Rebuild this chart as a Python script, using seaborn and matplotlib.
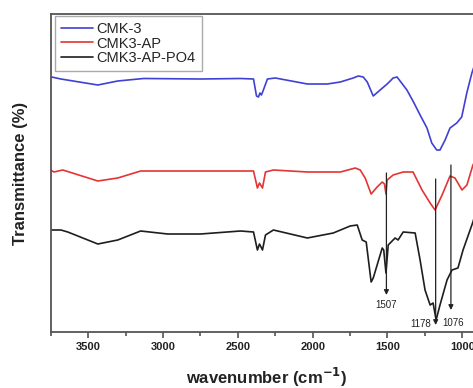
import matplotlib
matplotlib.use("Agg")
import matplotlib.pyplot as plt
import seaborn as sns
import pandas as pd

# ---- data (wavenumber cm-1, relative transmittance, arbitrary offset units) ----
cmk3_w = [3744, 3682, 3435, 3302, 3129, 2749, 2482, 2395, 2375, 2362, 2352, 2342, 2329, 2302,
          2249, 2035, 1902, 1815, 1729, 1695, 1662, 1635, 1595, 1549, 1502, 1462, 1436,
          1370, 1326, 1282, 1236, 1204, 1171, 1149, 1115, 1082, 1037, 1004, 970, 936, 900]
cmk3_t = [255, 253, 247, 251, 253.5, 253, 253.5, 253, 236, 235, 239, 237, 242, 253,
          254, 248, 248, 250, 254, 256, 255, 250, 236, 242, 248, 254, 255,
          242, 230, 217, 204, 189, 182, 182, 192, 204, 209, 215, 239, 259, 275]

ap_w = [3749, 3729, 3669, 3435, 3302, 3149, 2862, 2482, 2395, 2369, 2355, 2335, 2315, 2262,
        2035, 1815, 1715, 1682, 1649, 1609, 1569, 1535, 1520, 1510, 1502, 1462, 1395, 1329,
        1269, 1215, 1182, 1135, 1082, 1049, 1002, 969, 929, 900]
ap_t = [162, 160, 162, 151, 154, 161, 161, 161, 161, 144, 149, 144, 160, 162,
        160, 160, 164, 162, 154, 138, 145, 150, 148, 138, 152, 157, 160, 160,
        142, 129, 122, 137, 156, 154, 142, 147, 167, 175]

po4_w = [3749, 3682, 3636, 3435, 3302, 3149, 2969, 2749, 2482, 2395, 2369, 2355, 2335, 2315,
         2262, 2035, 1862, 1749, 1702, 1669, 1642, 1609, 1595, 1569, 1535, 1525, 1510, 1495,
         1449, 1429, 1395, 1315, 1282, 1249, 1215, 1195, 1175, 1149, 1102, 1069, 1029, 995,
         929, 900]
po4_t = [102, 102, 100, 88, 92, 101, 98, 98, 101, 100, 82, 88, 82, 97,
         102, 94, 99, 106, 107, 92, 90, 50, 54, 67, 84, 82, 59, 87,
         94, 92, 100, 99, 72, 42, 27, 29, 12, 27, 52, 62, 64, 82,
         110, 125]

series_names = ["CMK-3", "CMK3-AP", "CMK3-AP-PO4"]
series_colors = ["#4040d4", "#e43434", "#1e1e1e"]

peak_labels = ["1507", "1178", "1076"]
peak_pos = [1507, 1178, 1076]
arrow_top = [159, 153, 167]
arrow_bottom = [37, 7, 22]

df = pd.concat([
    pd.DataFrame({"w": cmk3_w, "t": cmk3_t, "s": series_names[0]}),
    pd.DataFrame({"w": ap_w, "t": ap_t, "s": series_names[1]}),
    pd.DataFrame({"w": po4_w, "t": po4_t, "s": series_names[2]}),
])

sns.set_theme(style="white")
plt.rcParams["font.family"] = ["Liberation Sans", "DejaVu Sans"]

fig = plt.figure(figsize=(4.73, 3.88), dpi=100)
W, H = 473, 388
left, right, top, bottom = 50.7, 484, 14, 332
ax = fig.add_axes([left / W, 1 - bottom / H, (right - left) / W, (bottom - top) / H])

sns.lineplot(data=df, x="w", y="t", hue="s", palette=dict(zip(series_names, series_colors)),
             ax=ax, linewidth=1.2, sort=False, estimator=None)

ax.set_xlim(3744, 855)
ax.set_ylim(0, 318)

ax.set_xticks([3500, 3000, 2500, 2000, 1500, 1000])
ax.set_xticks([3750, 3250, 2750, 2250, 1750, 1250], minor=True)
ax.set_yticks([])
ax.tick_params(axis="x", which="major", direction="out", length=4, width=1.1,
               color="#444444", labelsize=8, pad=3, bottom=True)
ax.tick_params(axis="x", which="minor", direction="out", length=3, width=1.1,
               color="#444444", bottom=True)
for lab in ax.get_xticklabels():
    lab.set_fontweight("bold")
    lab.set_color("#222222")

for side in ["left", "bottom", "top"]:
    ax.spines[side].set_color("#555555")
    ax.spines[side].set_linewidth(1.3)
ax.spines["right"].set_visible(False)

ax.set_xlabel("wavenumber (cm$^{\\mathbf{-1}}$)", fontsize=12, fontweight="bold",
              color="#222222")
ax.set_ylabel("Transmittance (%)", fontsize=12, fontweight="bold", color="#222222")
ax.xaxis.set_label_coords((267 - left) / (right - left), -(366 - bottom) / (bottom - top))
ax.yaxis.set_label_coords(-(left - 28) / (right - left), 0.5)

for lab, x, yt, yb in zip(peak_labels, peak_pos, arrow_top, arrow_bottom):
    ax.annotate("", xy=(x, yb), xytext=(x, yt),
                arrowprops=dict(arrowstyle="-|>", color="#222222", lw=0.9,
                                mutation_scale=7, shrinkA=0, shrinkB=0))
ax.text(1507, 27, "1507", fontsize=7, ha="center", va="center", color="#222222")
ax.text(1276, 8, "1178", fontsize=7, ha="center", va="center", color="#222222")
ax.text(1060, 9, "1076", fontsize=7, ha="center", va="center", color="#222222")

leg = ax.legend(loc="upper left", bbox_to_anchor=(55 / W, 1 - 16 / H),
                bbox_transform=fig.transFigure, borderaxespad=0, fontsize=10.5,
                handlelength=2.2, handletextpad=0.25, labelspacing=0.05,
                borderpad=0.4, fancybox=False, framealpha=1, title=None)
leg.get_frame().set_edgecolor("#aaaaaa")
leg.get_frame().set_linewidth(1.0)
for line in leg.get_lines():
    line.set_linewidth(1.2)

fig.savefig("out.png", dpi=100)
